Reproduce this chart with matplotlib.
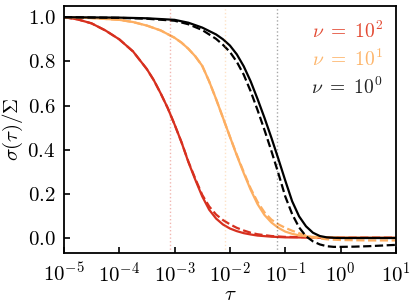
import numpy as np
import matplotlib
matplotlib.use("Agg")
from matplotlib import pyplot as plt
from matplotlib.ticker import FuncFormatter

plt.rcParams['font.family'] = 'serif'
plt.rcParams['font.serif'] = ['cmr10', 'DejaVu Serif']
plt.rcParams['mathtext.fontset'] = 'cm'
plt.rcParams['axes.unicode_minus'] = False

# log10(tau) sample points
red_x = [-5.0, -4.75, -4.5, -4.25, -4.0, -3.75, -3.5, -3.375, -3.25, -3.125, -3.0, -2.875,
         -2.75, -2.625, -2.5, -2.375, -2.25, -2.125, -2.0, -1.875, -1.75, -1.625, -1.5,
         -1.25, -1.0, -0.5, 0.0, 1.0]
red_solid = [1.0, 0.99, 0.972, 0.94, 0.90, 0.845, 0.765, 0.715, 0.655, 0.59, 0.515, 0.435,
             0.345, 0.265, 0.19, 0.13, 0.09, 0.063, 0.045, 0.033, 0.024, 0.018, 0.013,
             0.008, 0.005, 0.004, 0.003, 0.003]
red_dash = [1.0, 0.99, 0.972, 0.94, 0.90, 0.845, 0.765, 0.715, 0.655, 0.59, 0.515, 0.435,
            0.347, 0.27, 0.197, 0.145, 0.108, 0.083, 0.064, 0.048, 0.036, 0.026, 0.019,
            0.011, 0.007, 0.005, 0.004, 0.004]

orange_x = [-5.0, -4.5, -4.0, -3.75, -3.5, -3.25, -3.0, -2.875, -2.75, -2.625, -2.5, -2.375,
            -2.25, -2.125, -2.0, -1.875, -1.75, -1.625, -1.5, -1.375, -1.25, -1.125, -1.0,
            -0.875, -0.75, -0.625, -0.5, -0.25, 0.0, 0.5, 1.0]
orange_solid = [1.0, 0.996, 0.988, 0.978, 0.962, 0.94, 0.907, 0.885, 0.857, 0.823, 0.78, 0.71,
                0.63, 0.545, 0.46, 0.375, 0.295, 0.22, 0.155, 0.106, 0.072, 0.048, 0.031,
                0.021, 0.014, 0.010, 0.007, 0.005, 0.004, 0.003, 0.003]
orange_dash = [1.0, 0.996, 0.988, 0.978, 0.962, 0.94, 0.907, 0.885, 0.857, 0.823, 0.78, 0.71,
               0.63, 0.545, 0.46, 0.378, 0.30, 0.226, 0.165, 0.118, 0.085, 0.064, 0.048,
               0.035, 0.024, 0.013, 0.004, -0.004, -0.007, -0.009, -0.009]

black_x = [-5.0, -4.0, -3.5, -3.0, -2.75, -2.5, -2.25, -2.125, -2.0, -1.875, -1.75, -1.625,
           -1.5, -1.375, -1.25, -1.125, -1.0, -0.875, -0.75, -0.625, -0.5, -0.375, -0.25,
           -0.125, 0.0, 0.25, 0.5, 0.75, 1.0]
black_solid = [1.0, 0.998, 0.995, 0.988, 0.975, 0.953, 0.922, 0.90, 0.872, 0.832, 0.778, 0.71,
               0.63, 0.545, 0.455, 0.36, 0.262, 0.168, 0.10, 0.055, 0.026, 0.011, 0.005,
               0.003, 0.002, 0.002, 0.002, 0.002, 0.002]
black_dash = [1.0, 0.997, 0.993, 0.984, 0.968, 0.942, 0.902, 0.875, 0.843, 0.798, 0.74, 0.665,
              0.58, 0.49, 0.395, 0.295, 0.19, 0.11, 0.05, 0.01, -0.013, -0.027, -0.035,
              -0.038, -0.038, -0.037, -0.035, -0.032, -0.029]

# characteristic times (dotted lines)
tau_c = [8.3e-4, 8.0e-3, 7.0e-2]

labels = [r'$\nu\ =\ 10^2$', r'$\nu\ =\ 10^1$', r'$\nu\ =\ 10^0$']
colors = ['#d7301f', '#fdae61', 'black']
text_colors = ['#e34a33', '#fdb56b', '#222222']

fig = plt.figure(figsize=(4.15, 3.06), dpi=100)
ax = fig.add_axes([0.154, 0.173, 0.800, 0.807])

curves = [(red_x, red_solid, red_dash), (orange_x, orange_solid, orange_dash),
          (black_x, black_solid, black_dash)]
for (lx, ys, yd), c in zip(curves, colors):
    t = 10.0 ** np.array(lx)
    ax.plot(t, ys, color=c, lw=1.6)
    ax.plot(t, yd, color=c, lw=1.6, ls='--')

for tc, c in zip(tau_c, colors):
    ax.axvline(tc, color=c, ls=':', lw=1.0, alpha=0.35)

ax.set_xscale('log')
ax.set_xlim(1e-5, 1e1)
ax.set_ylim(-0.066, 1.05)
ax.set_xticks([1e-5, 1e-4, 1e-3, 1e-2, 1e-1, 1e0, 1e1])
ax.minorticks_off()
ax.set_yticks([0.0, 0.2, 0.4, 0.6, 0.8, 1.0])
ax.yaxis.set_major_formatter(FuncFormatter(lambda v, p: r'$%.1f$' % v))
ax.tick_params(direction='in', length=4, width=1.2, labelsize=15, pad=6)
for s in ax.spines.values():
    s.set_linewidth(1.3)

ax.set_xlabel(r'$\tau$', fontsize=15, labelpad=0)
ax.set_ylabel(r'$\sigma(\tau)/\Sigma$', fontsize=15, labelpad=2)

for i, (lab, c) in enumerate(zip(labels, text_colors)):
    ax.text(0.961, 0.896 - 0.112 * i, lab, color=c, fontsize=14,
            ha='right', va='center', transform=ax.transAxes)

fig.savefig('out.png', dpi=100)
